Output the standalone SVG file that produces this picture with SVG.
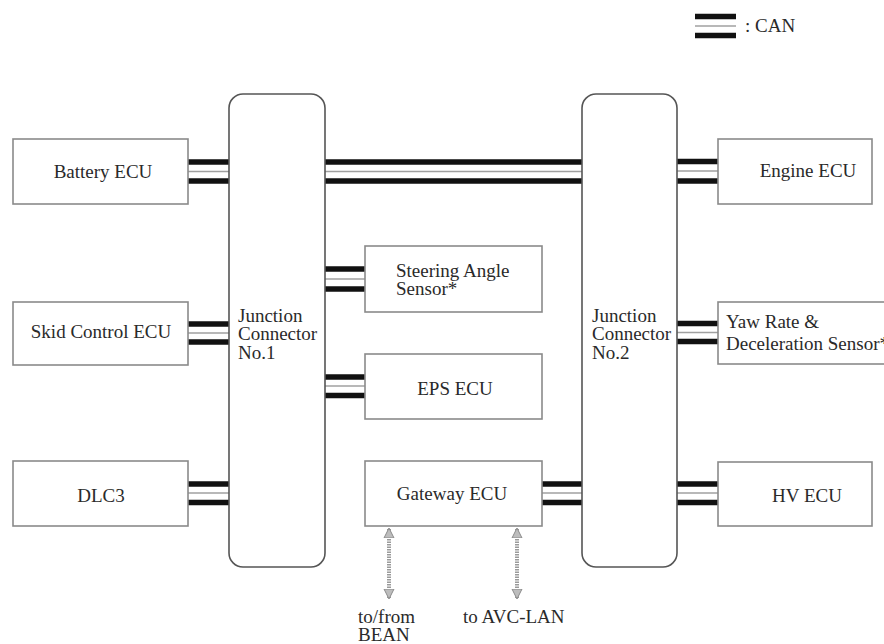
<svg xmlns="http://www.w3.org/2000/svg" width="884" height="644" viewBox="0 0 884 644" font-family="'Liberation Serif', serif">
<style>
  .box{fill:#fff;stroke:#8a8a8a;stroke-width:1.6}
  .jc{fill:#fff;stroke:#555;stroke-width:1.6}
  text{font-family:'Liberation Serif',serif;font-size:19px;fill:#2a2a2a}
  .m{text-anchor:middle}
  .bk{stroke:#111;stroke-width:5.5}
  .gy{stroke:#a0a0a0;stroke-width:1.6}
  .arr{stroke:#9a9a9a;stroke-width:4;stroke-dasharray:1.5 1}
</style>
<defs>
  <marker id="ah" viewBox="0 0 10 12" refX="9" refY="6" markerWidth="10" markerHeight="12" markerUnits="userSpaceOnUse" orient="auto-start-reverse">
    <path d="M0,1 L10,6 L0,11 Z" fill="#bdbdbd" stroke="#8a8a8a" stroke-width="1"/>
  </marker>
</defs>
<rect width="884" height="644" fill="#fff"/>

<g id="legend">
  <line class="bk" x1="695" y1="16.5" x2="736" y2="16.5"/>
  <line class="gy" x1="695" y1="26" x2="736" y2="26"/>
  <line class="bk" x1="695" y1="35.5" x2="736" y2="35.5"/>
  <text x="745" y="32">:  CAN</text>
</g>

<g id="connectors">
  <g id="bus-battery"><line class="bk" x1="188" y1="162" x2="229" y2="162"/><line class="gy" x1="188" y1="171.5" x2="229" y2="171.5"/><line class="bk" x1="188" y1="181" x2="229" y2="181"/></g>
  <g id="bus-j1-j2"><line class="bk" x1="325" y1="162" x2="582" y2="162"/><line class="gy" x1="325" y1="171.5" x2="582" y2="171.5"/><line class="bk" x1="325" y1="181" x2="582" y2="181"/></g>
  <g id="bus-engine"><line class="bk" x1="677" y1="161.5" x2="718" y2="161.5"/><line class="gy" x1="677" y1="171" x2="718" y2="171"/><line class="bk" x1="677" y1="181" x2="718" y2="181"/></g>
  <g id="bus-steering"><line class="bk" x1="325" y1="269" x2="365" y2="269"/><line class="gy" x1="325" y1="279" x2="365" y2="279"/><line class="bk" x1="325" y1="289" x2="365" y2="289"/></g>
  <g id="bus-skid"><line class="bk" x1="188" y1="324" x2="229" y2="324"/><line class="gy" x1="188" y1="333" x2="229" y2="333"/><line class="bk" x1="188" y1="342" x2="229" y2="342"/></g>
  <g id="bus-yaw"><line class="bk" x1="677" y1="323.5" x2="718" y2="323.5"/><line class="gy" x1="677" y1="332.5" x2="718" y2="332.5"/><line class="bk" x1="677" y1="341.5" x2="718" y2="341.5"/></g>
  <g id="bus-eps"><line class="bk" x1="325" y1="377" x2="365" y2="377"/><line class="gy" x1="325" y1="386" x2="365" y2="386"/><line class="bk" x1="325" y1="395.5" x2="365" y2="395.5"/></g>
  <g id="bus-dlc3"><line class="bk" x1="188" y1="484" x2="229" y2="484"/><line class="gy" x1="188" y1="493" x2="229" y2="493"/><line class="bk" x1="188" y1="502.5" x2="229" y2="502.5"/></g>
  <g id="bus-gateway"><line class="bk" x1="542" y1="484" x2="582" y2="484"/><line class="gy" x1="542" y1="493" x2="582" y2="493"/><line class="bk" x1="542" y1="502.5" x2="582" y2="502.5"/></g>
  <g id="bus-hv"><line class="bk" x1="677" y1="484" x2="718" y2="484"/><line class="gy" x1="677" y1="493" x2="718" y2="493"/><line class="bk" x1="677" y1="502.5" x2="718" y2="502.5"/></g>
  <line class="arr" x1="389" y1="529" x2="389" y2="598" marker-start="url(#ah)" marker-end="url(#ah)"/>
  <line class="arr" x1="517" y1="529" x2="517" y2="598" marker-start="url(#ah)" marker-end="url(#ah)"/>
</g>

<g id="jc1">
  <rect class="jc" x="229" y="94" width="96" height="473" rx="14"/>
  <text x="238" y="322">Junction</text>
  <text x="238" y="340">Connector</text>
  <text x="238" y="359">No.1</text>
</g>
<g id="jc2">
  <rect class="jc" x="582" y="94" width="95" height="473" rx="14"/>
  <text x="592" y="322">Junction</text>
  <text x="592" y="340">Connector</text>
  <text x="592" y="359">No.2</text>
</g>

<g id="battery"><rect class="box" x="13" y="139" width="175" height="65"/><text class="m" x="103" y="178">Battery ECU</text></g>
<g id="skid"><rect class="box" x="13" y="302" width="175" height="63"/><text class="m" x="101" y="338">Skid Control ECU</text></g>
<g id="dlc3"><rect class="box" x="13" y="461" width="175" height="65"/><text class="m" x="101" y="502">DLC3</text></g>

<g id="steering"><rect class="box" x="365" y="246" width="177" height="66"/><text x="396" y="277">Steering Angle</text><text x="396" y="295">Sensor*</text></g>
<g id="eps"><rect class="box" x="365" y="354" width="177" height="65"/><text class="m" x="455" y="395">EPS ECU</text></g>
<g id="gateway"><rect class="box" x="365" y="461" width="177" height="65"/><text class="m" x="452" y="500">Gateway ECU</text></g>

<g id="engine"><rect class="box" x="718" y="139" width="154" height="65"/><text class="m" x="808" y="177">Engine ECU</text></g>
<g id="yaw"><rect class="box" x="718" y="302" width="180" height="62"/><text x="726" y="328">Yaw Rate &amp;</text><text x="726" y="350">Deceleration Sensor*</text></g>
<g id="hv"><rect class="box" x="718" y="462" width="154" height="64"/><text class="m" x="807" y="502">HV ECU</text></g>

<g id="labels">
  <text x="358" y="623">to/from</text>
  <text x="358" y="641">BEAN</text>
  <text x="463" y="623">to AVC-LAN</text>
</g>
</svg>
